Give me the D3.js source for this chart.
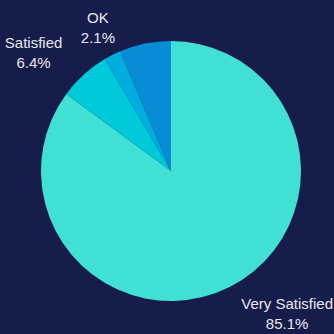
<!DOCTYPE html>
<html>
<head>
<meta charset="utf-8">
<script src="https://cdn.jsdelivr.net/npm/d3@7"></script>
<style>
  html, body { margin: 0; padding: 0; background: #161d4b; }
  svg { display: block; }
  text { font-family: "Liberation Sans", Arial, sans-serif; font-size: 15px; fill: #e6e8ee; }
</style>
</head>
<body>
<svg></svg>
<script>
// Data

const categories = ['Very Satisfied', 'Satisfied', 'OK', 'Dissatisfied']
const values = [85.1, 6.4, 2.1, 6.4]
const colors = ['#40e0d5', '#00c9d9', '#00addf', '#098cd6']
// the last slice has no label in the chart
const showLabel = [true, true, true, false]

const width = 334
const height = 334
const cx = 171
const cy = 171
const radius = 130
const labelRadius = 162

const svg = d3.select('svg')
    .attr('width', width)
    .attr('height', height)

const data = categories.map((c, i) => ({name: c, value: values[i], color: colors[i], label: showLabel[i]}))

const pie = d3.pie()
    .value(d => d.value)
    .sort(null)

const arc = d3.arc()
    .innerRadius(0)
    .outerRadius(radius)

const arcs = pie(data)

const g = svg.append('g')
    .attr('transform', `translate(${cx}, ${cy})`)

g.selectAll('path').data(arcs).join('path')
    .attr('d', arc)
    .attr('fill', d => d.data.color)

// Labels: two centred lines, block pushed to the side the slice points to

function sideFor(s) {
  if (s > 0.3) return 1
  if (s < -0.6) return -1
  return 0
}

g.selectAll('text').data(arcs.filter(d => d.data.label)).join('text')
    .attr('text-anchor', 'middle')
    .each(function(d) {
      const a = (d.startAngle + d.endAngle) / 2
      const s = Math.sin(a)
      const c = -Math.cos(a)
      let y = c * labelRadius
      // keep the two-line block inside the picture
      y = Math.max(-cy + 20, Math.min(height - cy - 22, y))
      const t = d3.select(this)
      const l1 = t.append('tspan')
          .attr('y', y - 3)
          .text(d.data.name)
      const l2 = t.append('tspan')
          .attr('y', y + 17)
          .text(d.data.value.toFixed(1) + '%')
      const w = Math.max(l1.node().getComputedTextLength(), l2.node().getComputedTextLength())
      let x = s * labelRadius + sideFor(s) * w / 2
      x = Math.max(-cx + w / 2 + 1, Math.min(width - cx - w / 2 - 1, x))
      l1.attr('x', x)
      l2.attr('x', x)
    })
</script>
</body>
</html>
